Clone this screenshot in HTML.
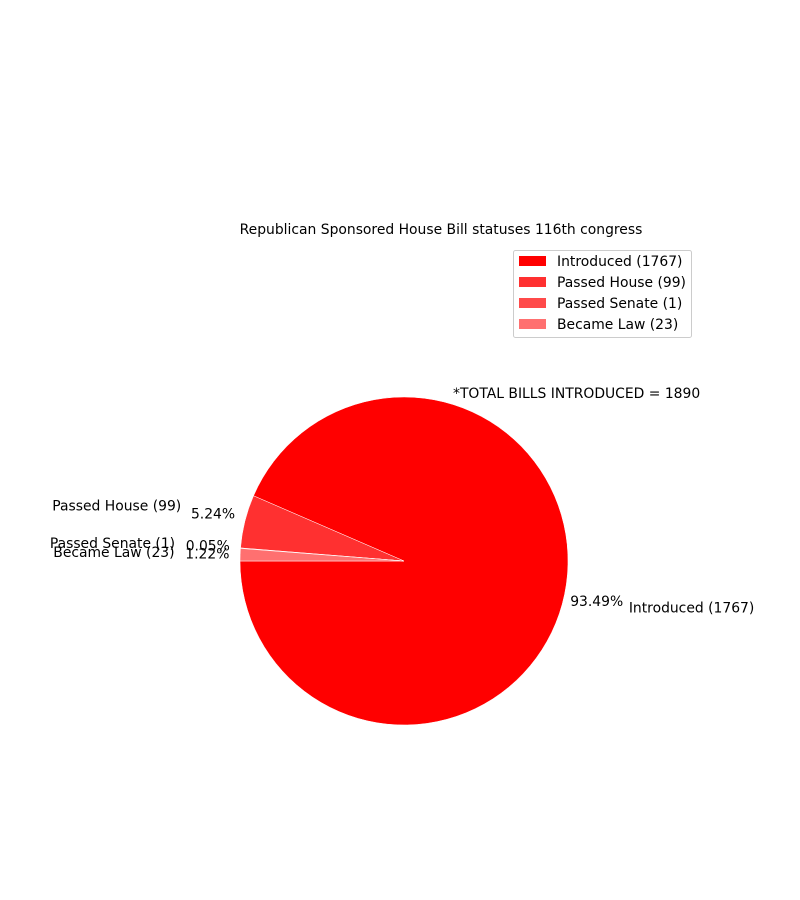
<!DOCTYPE html>
<html><head><meta charset="utf-8"><style>
html,body{margin:0;padding:0;background:#fff;width:800px;height:900px;overflow:hidden}
svg text{font-family:"DejaVu Sans","Liberation Sans",sans-serif;font-size:13.9px;fill:#000}
</style></head><body>
<svg id="chart" width="800" height="900" viewBox="0 0 800 900">
<text x="441" y="230" text-anchor="middle" dominant-baseline="central" style="font-size:13.9px">Republican Sponsored House Bill statuses 116th congress</text>
<text x="453" y="394" dominant-baseline="central">*TOTAL BILLS INTRODUCED = 1890</text>
<g id="wedges"></g>
<g id="labels"></g>
<g>
<rect x="513.5" y="250.5" width="178" height="87" rx="2" fill="#fff" stroke="#ccc"/>
<g id="legend-items"></g>
</g>
</svg>
<script>
const categories = ["Introduced (1767)", "Passed House (99)", "Passed Senate (1)", "Became Law (23)"];
const values = [1767, 99, 1, 23];
const colors = ["#ff0000", "#ff3030", "#ff4a4a", "#ff7070"];
const NS = "http://www.w3.org/2000/svg";
const cx = 404, cy = 561, R = 164, startAngle = 180;
const total = values.reduce((a, b) => a + b, 0);
const wg = document.getElementById('wedges'), lg = document.getElementById('labels'), leg = document.getElementById('legend-items');
function pt(r, deg) { const a = deg * Math.PI / 180; return [cx + r * Math.cos(a), cy - r * Math.sin(a)]; }
let ang = startAngle;
values.forEach((v, i) => {
  const sweep = v / total * 360, a0 = ang, a1 = ang + sweep;
  const p0 = pt(R, a0), p1 = pt(R, a1);
  const large = sweep > 180 ? 1 : 0;
  const path = document.createElementNS(NS, 'path');
  path.setAttribute('d', `M${cx},${cy} L${p0[0]},${p0[1]} A${R},${R} 0 ${large} 0 ${p1[0]},${p1[1]} Z`);
  path.setAttribute('fill', colors[i]);
  path.setAttribute('stroke', '#fff');
  path.setAttribute('stroke-width', '0.5');
  
  
  wg.appendChild(path);
  const mid = (a0 + a1) / 2, c = Math.cos(mid * Math.PI / 180);
  const lp = pt(R * 1.4, mid);
  const t = document.createElementNS(NS, 'text');
  t.setAttribute('x', lp[0]); t.setAttribute('y', lp[1] + 1);
  t.setAttribute('text-anchor', c >= 0 ? 'start' : 'end');
  t.setAttribute('dominant-baseline', 'central');
  t.textContent = categories[i];
  
  
  lg.appendChild(t);
  const pp = pt(R * 1.2, mid);
  const t2 = document.createElementNS(NS, 'text');
  t2.setAttribute('x', pp[0]); t2.setAttribute('y', pp[1] + 1);
  t2.setAttribute('text-anchor', 'middle');
  t2.setAttribute('dominant-baseline', 'central');
  t2.textContent = (v / total * 100).toFixed(2) + '%';
  
  
  lg.appendChild(t2);
  const y = 261 + i * 21;
  const r = document.createElementNS(NS, 'rect');
  r.setAttribute('x', 519); r.setAttribute('y', y - 5); r.setAttribute('width', 27); r.setAttribute('height', 10);
  r.setAttribute('fill', colors[i]);
  
  
  leg.appendChild(r);
  const lt = document.createElementNS(NS, 'text');
  lt.setAttribute('x', 557); lt.setAttribute('y', y + 1); lt.setAttribute('dominant-baseline', 'central');
  lt.textContent = categories[i];
  
  
  leg.appendChild(lt);
  ang = a1;
});
</script>
</body></html>
